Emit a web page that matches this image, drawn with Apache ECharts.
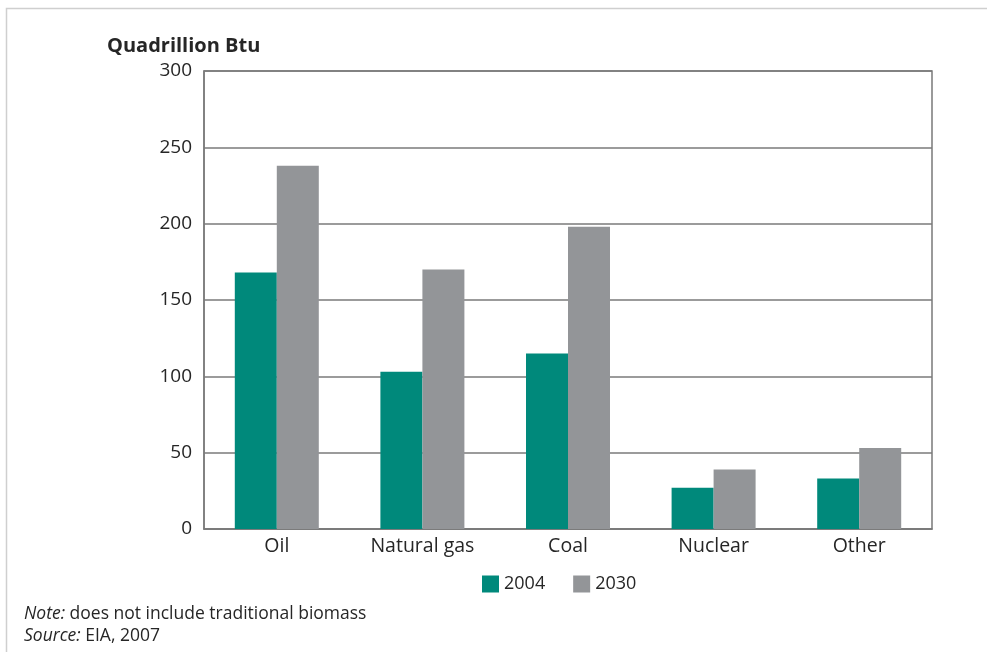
<!DOCTYPE html>
<html>
<head>
<meta charset="utf-8">
<script src="https://cdn.jsdelivr.net/npm/echarts@6/dist/echarts.min.js"></script>
<style>
html,body{margin:0;padding:0;background:#fff;}
#c{width:987px;height:652px;}
</style>
</head>
<body>
<div id="c"></div>
<script>
const categories = ['Oil', 'Natural gas', 'Coal', 'Nuclear', 'Other'];
const values2004 = [168, 103, 115, 27, 33];
const values2030 = [238, 170, 198, 39, 53];
const seriesNames = ['2004', '2030'];
const yTicks = [0, 50, 100, 150, 200, 250, 300];

const FONT = '"Open Sans", "Noto Sans", sans-serif';
const chart = echarts.init(document.getElementById('c'), null, {renderer: 'canvas'});
chart.setOption({
  backgroundColor: '#fff',
  animation: false,
  grid: {left: 204, right: 55, top: 71, bottom: 123, show: true, borderColor: '#7a7a7a', borderWidth: 1.5, backgroundColor: 'transparent'},
  legend: {
    data: seriesNames, left: 477, top: 570, itemWidth: 17, itemHeight: 17, itemGap: 28,
    icon: 'rect',
    textStyle: {fontFamily: FONT, fontSize: 18, color: '#262626', padding: [0,0,0,0]}
  },
  xAxis: {
    type: 'category', data: categories,
    axisLine: {show: true, lineStyle: {color: '#7a7a7a', width: 1.5}},
    axisTick: {show: false},
    axisLabel: {fontFamily: FONT, fontSize: 19.5, color: '#262626', margin: 7}
  },
  yAxis: {
    type: 'value', min: yTicks[0], max: yTicks[yTicks.length - 1], interval: 50,
    name: 'Quadrillion Btu', nameLocation: 'end', nameGap: 15,
    nameTextStyle: {fontFamily: FONT, fontSize: 20, fontWeight: 'bold', color: '#262626', align: 'left', padding: [0, 0, 0, -97]},
    axisLine: {show: true, lineStyle: {color: '#7a7a7a', width: 1.5}},
    axisTick: {show: false},
    axisLabel: {fontFamily: FONT, fontSize: 19, color: '#262626', margin: 12},
    splitLine: {show: true, lineStyle: {color: '#7a7a7a', width: 1.5}}
  },
  series: [
    {name: seriesNames[0], type: 'bar', data: values2004, barWidth: 42, barGap: '0%', itemStyle: {color: '#00897b'}},
    {name: seriesNames[1], type: 'bar', data: values2030, barWidth: 42, barGap: '0%', itemStyle: {color: '#939598'}}
  ],
  graphic: [
    {type: 'rect', shape: {x: 6.5, y: 8.5, width: 1000, height: 700}, style: {fill: 'none', stroke: '#cfcfcf', lineWidth: 1.5}, silent: true},
    {type: 'text', left: 24, top: 603, style: {
      text: '{i|Note:} does not include traditional biomass\n{i|Source:} EIA, 2007',
      font: '17.5px ' + FONT, fill: '#262626', lineHeight: 22,
      rich: {i: {fontStyle: 'italic', fontFamily: FONT, fontSize: 17.5, fill: '#262626'}}
    }}
  ]
});
</script>
</body>
</html>
